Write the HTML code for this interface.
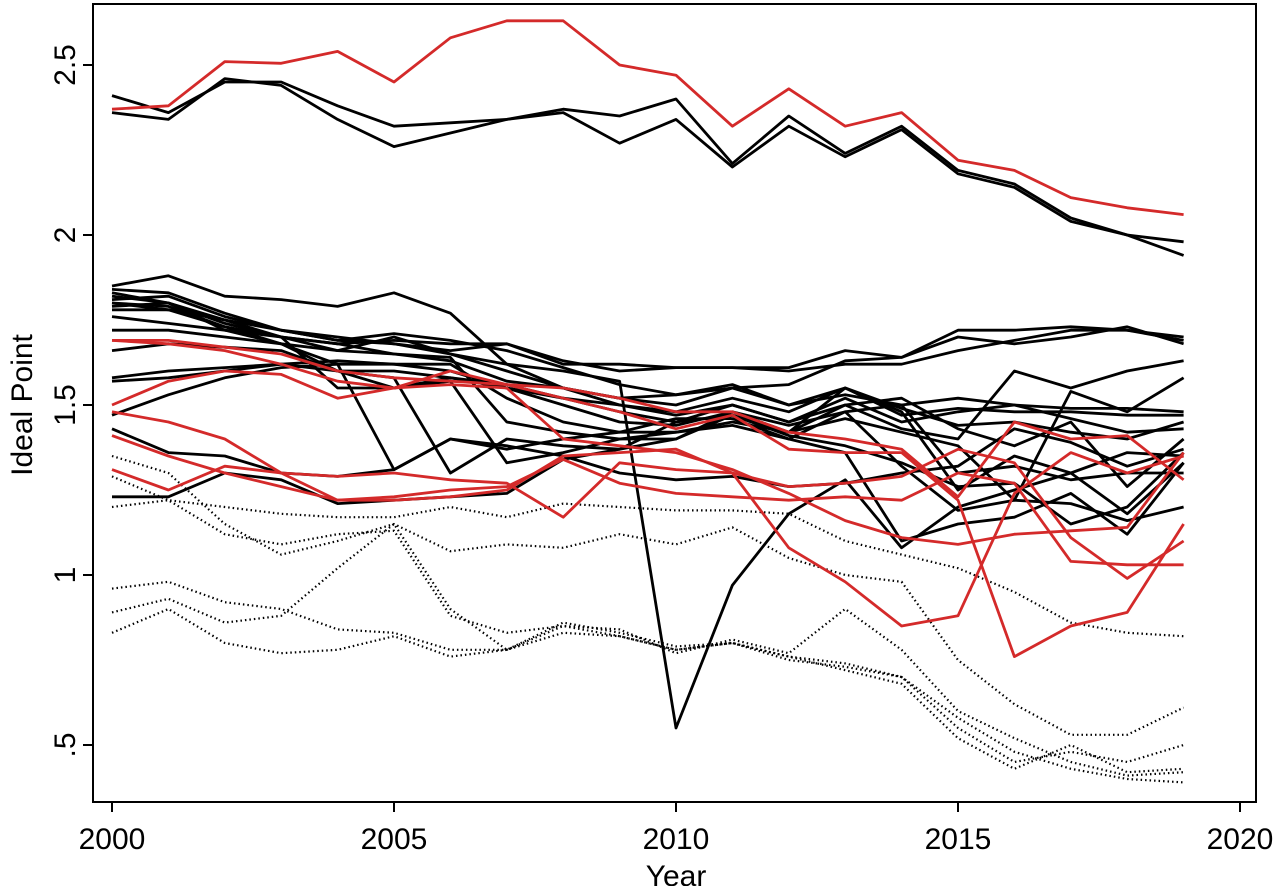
<!DOCTYPE html>
<html><head><meta charset="utf-8"><style>
html,body{margin:0;padding:0;background:#fff;}
svg{display:block;font-family:"Liberation Sans",sans-serif;}
</style></head><body>
<svg id="s" width="1275" height="886" viewBox="0 0 1275 886" xmlns="http://www.w3.org/2000/svg">
<rect x="0" y="0" width="1275" height="886" fill="#fff"/>
<rect x="93" y="4" width="1163" height="798" fill="none" stroke="#000" stroke-width="2"/>
<g stroke="#000" stroke-width="2">
<line x1="112" y1="802" x2="112" y2="812"/><line x1="394" y1="802" x2="394" y2="812"/>
<line x1="676" y1="802" x2="676" y2="812"/><line x1="958" y1="802" x2="958" y2="812"/>
<line x1="1240" y1="802" x2="1240" y2="812"/>
<line x1="83" y1="65" x2="93" y2="65"/><line x1="83" y1="235" x2="93" y2="235"/>
<line x1="83" y1="405" x2="93" y2="405"/><line x1="83" y1="575" x2="93" y2="575"/>
<line x1="83" y1="745" x2="93" y2="745"/>
</g>
<g font-size="30" text-anchor="middle" fill="#000">
<text x="112" y="849">2000</text><text x="394" y="849">2005</text><text x="676" y="849">2010</text>
<text x="958" y="849">2015</text><text x="1240" y="849">2020</text>
<text x="676" y="886">Year</text>
<text transform="translate(75,65) rotate(-90)">2.5</text>
<text transform="translate(75,235) rotate(-90)">2</text>
<text transform="translate(75,405) rotate(-90)">1.5</text>
<text transform="translate(75,575) rotate(-90)">1</text>
<text transform="translate(75,745) rotate(-90)">.5</text>
<text transform="translate(32,405) rotate(-90)">Ideal Point</text>
</g>
<g id="g"></g>
</svg>
<script>
var X=function(i){return 112+56.4*i},Y=function(v){return 575-340*(v-1)};
var dot=[
[1.20,1.22,1.20,1.18,1.17,1.17,1.20,1.17,1.21,1.20,1.19,1.19,1.18,1.10,1.06,1.02,0.95,0.86,0.83,0.82],
[1.35,1.30,1.15,1.06,1.10,1.15,1.07,1.09,1.08,1.12,1.09,1.14,1.05,1.00,0.98,0.75,0.62,0.53,0.53,0.61],
[1.29,1.22,1.12,1.09,1.12,1.13,0.88,0.83,0.85,0.82,0.78,0.80,0.75,0.73,0.70,0.55,0.45,0.48,0.45,0.50],
[0.96,0.98,0.92,0.90,0.84,0.83,0.78,0.78,0.85,0.84,0.77,0.81,0.77,0.90,0.78,0.60,0.52,0.45,0.41,0.42],
[0.89,0.93,0.86,0.88,1.02,1.15,0.90,0.78,0.86,0.83,0.79,0.80,0.76,0.74,0.70,0.58,0.48,0.43,0.40,0.39],
[0.83,0.90,0.80,0.77,0.78,0.82,0.76,0.78,0.83,0.82,0.78,0.80,0.76,0.72,0.68,0.52,0.43,0.50,0.42,0.43]];
var blk=[
[2.41,2.36,2.45,2.45,2.38,2.32,2.33,2.34,2.37,2.35,2.40,2.21,2.35,2.24,2.32,2.19,2.15,2.05,2.00,1.94],
[2.36,2.34,2.46,2.44,2.34,2.26,2.30,2.34,2.36,2.27,2.34,2.20,2.32,2.23,2.31,2.18,2.14,2.04,2.00,1.98],
[1.80,1.78,1.75,1.72,1.70,1.68,1.65,1.62,1.60,1.57,0.55,0.97,1.18,1.28,1.08,1.20,1.25,1.30,1.18,1.33],
[1.85,1.88,1.82,1.81,1.79,1.83,1.77,1.62,1.55,1.50,1.47,1.50,1.45,1.50,1.52,1.43,1.38,1.45,1.26,1.40],
[1.84,1.83,1.77,1.72,1.69,1.68,1.66,1.68,1.62,1.62,1.61,1.61,1.61,1.66,1.64,1.72,1.72,1.73,1.72,1.69],
[1.82,1.80,1.75,1.70,1.66,1.70,1.65,1.60,1.55,1.52,1.53,1.55,1.56,1.63,1.64,1.70,1.68,1.70,1.73,1.68],
[1.78,1.78,1.73,1.70,1.68,1.69,1.68,1.68,1.63,1.60,1.61,1.61,1.60,1.62,1.62,1.66,1.69,1.72,1.72,1.70],
[1.72,1.72,1.70,1.68,1.66,1.65,1.63,1.57,1.55,1.52,1.50,1.55,1.50,1.53,1.50,1.52,1.50,1.49,1.49,1.48],
[1.66,1.68,1.67,1.66,1.60,1.55,1.58,1.56,1.52,1.50,1.48,1.52,1.48,1.55,1.47,1.49,1.48,1.48,1.47,1.47],
[1.58,1.60,1.61,1.62,1.63,1.62,1.60,1.55,1.52,1.48,1.45,1.50,1.45,1.52,1.45,1.48,1.50,1.46,1.42,1.43],
[1.57,1.58,1.60,1.62,1.60,1.60,1.58,1.55,1.50,1.45,1.44,1.48,1.42,1.50,1.43,1.40,1.60,1.55,1.60,1.63],
[1.47,1.53,1.58,1.61,1.62,1.62,1.62,1.52,1.45,1.42,1.46,1.46,1.40,1.48,1.50,1.30,1.32,1.28,1.30,1.30],
[1.43,1.36,1.35,1.30,1.29,1.31,1.40,1.37,1.40,1.42,1.42,1.45,1.42,1.55,1.48,1.25,1.35,1.30,1.36,1.35],
[1.23,1.23,1.30,1.28,1.21,1.22,1.23,1.24,1.34,1.37,1.40,1.47,1.42,1.46,1.42,1.38,1.22,1.54,1.48,1.58],
[1.80,1.79,1.73,1.68,1.62,1.31,1.40,1.38,1.35,1.30,1.28,1.29,1.26,1.27,1.30,1.32,1.43,1.39,1.32,1.37],
[1.83,1.80,1.72,1.68,1.60,1.58,1.30,1.40,1.38,1.37,1.45,1.47,1.41,1.38,1.33,1.26,1.27,1.15,1.20,1.36],
[1.79,1.80,1.74,1.70,1.55,1.55,1.57,1.33,1.36,1.40,1.40,1.48,1.44,1.48,1.32,1.19,1.22,1.21,1.16,1.20],
[1.76,1.74,1.72,1.70,1.68,1.65,1.64,1.45,1.42,1.40,1.42,1.44,1.40,1.36,1.10,1.15,1.17,1.24,1.12,1.33],
[1.81,1.82,1.76,1.72,1.69,1.71,1.69,1.66,1.61,1.56,1.53,1.56,1.50,1.55,1.49,1.44,1.45,1.42,1.40,1.45]];
var red=[
[2.37,2.38,2.51,2.505,2.54,2.45,2.58,2.63,2.63,2.50,2.47,2.32,2.43,2.32,2.36,2.22,2.19,2.11,2.08,2.06],
[1.69,1.69,1.67,1.65,1.60,1.58,1.57,1.56,1.55,1.52,1.48,1.48,1.42,1.40,1.37,1.23,1.45,1.40,1.41,1.28],
[1.50,1.57,1.60,1.59,1.52,1.55,1.56,1.55,1.40,1.38,1.36,1.31,1.24,1.16,1.11,1.09,1.12,1.13,1.14,1.36],
[1.41,1.35,1.30,1.26,1.22,1.22,1.23,1.25,1.35,1.36,1.37,1.30,1.08,0.98,0.85,0.88,1.24,1.36,1.30,1.35],
[1.31,1.25,1.32,1.30,1.29,1.30,1.28,1.27,1.17,1.33,1.31,1.30,1.26,1.27,1.29,1.37,1.33,1.11,0.99,1.10],
[1.69,1.68,1.66,1.62,1.57,1.55,1.60,1.56,1.52,1.48,1.43,1.47,1.37,1.36,1.36,1.22,0.76,0.85,0.89,1.15],
[1.48,1.45,1.40,1.30,1.22,1.23,1.25,1.26,1.34,1.27,1.24,1.23,1.22,1.23,1.22,1.30,1.27,1.04,1.03,1.03]];
var h='';
function pl(a,st){var p=a.map(function(v,i){return X(i).toFixed(1)+','+Y(v).toFixed(1)}).join(' ');h+='<polyline fill="none" points="'+p+'" '+st+'/>';}
dot.forEach(function(a){pl(a,'stroke="#000" stroke-width="2.2" stroke-dasharray="1.5,3"')});
blk.forEach(function(a){pl(a,'stroke="#000" stroke-width="2.8" stroke-linejoin="round"')});
red.forEach(function(a){pl(a,'stroke="#d42a2a" stroke-width="2.8" stroke-linejoin="round"')});
document.getElementById('g').innerHTML=h;
</script>
</body></html>
